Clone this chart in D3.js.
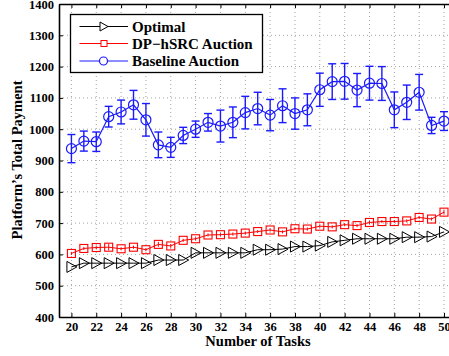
<!DOCTYPE html>
<html>
<head>
<meta charset="utf-8">
<script src="https://cdn.jsdelivr.net/npm/d3@7"></script>
<style>
  html, body { margin: 0; padding: 0; background: #fff; }
  svg { display: block; }
  text { font-family: "Liberation Serif", "Times New Roman", serif; font-weight: bold; }
</style>
</head>
<body>
<svg id="chart" width="449" height="356"></svg>
<script>
// Number of tasks on the x axis
const tasks = d3.range(20, 51);

// Platform's total payment per mechanism
const optimal = [560, 572, 572, 572, 572, 572, 572, 582, 582, 582,
                 605, 605, 605, 605, 605, 615, 615, 617, 625, 625,
                 628, 640, 645, 650, 650, 650, 650, 655, 655, 657, 672];
const dpHsrc = [603, 619, 622, 623, 618, 623, 615, 632, 627, 645,
                650, 662, 663, 665, 668, 673, 678, 672, 682, 681,
                690, 688, 695, 692, 702, 705, 705, 707, 718, 713, 735];
const dpHsrcErr = [5, 5, 6, 10, 5, 5, 5, 8, 6, 5,
                   5, 5, 5, 5, 5, 5, 5, 5, 5, 5,
                   5, 5, 5, 5, 5, 5, 5, 5, 5, 5, 8];
const baseline = [938, 962, 960, 1040, 1055, 1078, 1030, 950, 942, 980,
                  1000, 1022, 1010, 1022, 1053, 1066, 1045, 1075, 1050, 1062,
                  1126, 1152, 1153, 1125, 1147, 1146, 1062, 1086, 1118, 1012, 1026];
const baselineErr = [45, 32, 31, 33, 38, 46, 52, 41, 32, 26,
                     26, 28, 51, 49, 52, 52, 50, 54, 50, 51,
                     53, 57, 57, 53, 54, 54, 57, 55, 57, 26, 30];

const xTicks = d3.range(20, 51, 2);
const yTicks = d3.range(400, 1401, 100);
const seriesNames = ["Optimal", "DP\u2212hSRC Auction", "Baseline Auction"];

const serif = "'Liberation Serif', 'Times New Roman', serif";
const svg = d3.select("#chart");
const plotLeft = 59, plotRight = 456.4, plotTop = 4, plotBottom = 317;

const x = d3.scaleLinear().domain([19, 51]).range([plotLeft, plotRight]);
const y = d3.scaleLinear().domain([400, 1400]).range([plotBottom, plotTop]);

// dotted grid
const grid = svg.append("g");
grid.selectAll("line.vx").data(xTicks).join("line")
  .attr("x1", d => x(d)).attr("x2", d => x(d))
  .attr("y1", plotTop).attr("y2", plotBottom)
  .attr("stroke", "#8c8c8c").attr("stroke-width", 0.8)
  .attr("stroke-dasharray", "1,3");
grid.selectAll("line.hy").data(yTicks.filter(d => d > 400 && d < 1400)).join("line")
  .attr("x1", plotLeft).attr("x2", plotRight)
  .attr("y1", d => y(d)).attr("y2", d => y(d))
  .attr("stroke", "#8c8c8c").attr("stroke-width", 0.8)
  .attr("stroke-dasharray", "1,3");

// axes with inward ticks
const fmt = d3.format("d");
const xAxis = svg.append("g").attr("transform", `translate(0,${plotBottom})`)
  .call(d3.axisBottom(x).tickValues(xTicks).tickFormat(fmt).tickSize(-4).tickPadding(5).tickSizeOuter(0));
const xTop = svg.append("g").attr("transform", `translate(0,${plotTop})`)
  .call(d3.axisTop(x).tickValues(xTicks).tickSize(-4).tickFormat("").tickSizeOuter(0));
const yAxis = svg.append("g").attr("transform", `translate(${plotLeft},0)`)
  .call(d3.axisLeft(y).tickValues(yTicks).tickFormat(fmt).tickSize(-4).tickPadding(5).tickSizeOuter(0));
[xAxis, xTop, yAxis].forEach(g => {
  g.attr("font-family", serif).attr("font-size", 12.5).attr("font-weight", "bold");
  g.selectAll(".domain").attr("stroke", "#000").attr("stroke-width", 1.6);
  g.selectAll(".tick line").attr("stroke", "#000").attr("stroke-width", 1);
  g.selectAll("text").attr("fill", "#000");
});

// axis titles
svg.append("text").attr("x", 258).attr("y", 346).attr("text-anchor", "middle")
  .attr("font-family", serif).attr("font-size", 14.5).text("Number of Tasks");
svg.append("text").attr("transform", "translate(22,160) rotate(-90)")
  .attr("text-anchor", "middle").attr("font-family", serif).attr("font-size", 14.5)
  .text("Platform\u2019s Total Payment");

const line = d3.line().x((d, i) => x(tasks[i])).y(d => y(d));
const marks = svg.append("g");

// Optimal: black line with right-pointing triangles
const triPath = "M-4.5,-5.5 L5.5,0 L-4.5,5.5 Z";
const triSmall = "M-3.5,-4.5 L4.5,0 L-3.5,4.5 Z";
marks.append("path").datum(optimal).attr("d", line)
  .attr("fill", "none").attr("stroke", "#000").attr("stroke-width", 1);
marks.selectAll("path.tri").data(optimal).join("path")
  .attr("d", triPath)
  .attr("transform", (d, i) => `translate(${x(tasks[i])},${y(d)})`)
  .attr("fill", "none").attr("stroke", "#000").attr("stroke-width", 1);

// DP-hSRC: red line with squares and small error bars
marks.append("path").datum(dpHsrc).attr("d", line)
  .attr("fill", "none").attr("stroke", "#ff0000").attr("stroke-width", 1);
marks.selectAll("line.dpe").data(dpHsrc).join("line")
  .attr("x1", (d, i) => x(tasks[i])).attr("x2", (d, i) => x(tasks[i]))
  .attr("y1", (d, i) => y(d - dpHsrcErr[i])).attr("y2", (d, i) => y(d + dpHsrcErr[i]))
  .attr("stroke", "#ff0000").attr("stroke-width", 1);
marks.selectAll("rect.sq").data(dpHsrc).join("rect")
  .attr("x", (d, i) => x(tasks[i]) - 4).attr("y", d => y(d) - 4)
  .attr("width", 8).attr("height", 8)
  .attr("fill", "none").attr("stroke", "#ff0000").attr("stroke-width", 1.1);

// Baseline: blue line with circles and error bars
const blue = "#1a1aff";
marks.append("path").datum(baseline).attr("d", line)
  .attr("fill", "none").attr("stroke", blue).attr("stroke-width", 1.2);
const eb = marks.selectAll("g.eb").data(baseline).join("g");
eb.append("line")
  .attr("x1", (d, i) => x(tasks[i])).attr("x2", (d, i) => x(tasks[i]))
  .attr("y1", (d, i) => y(d - baselineErr[i])).attr("y2", (d, i) => y(d + baselineErr[i]))
  .attr("stroke", blue).attr("stroke-width", 1.4);
eb.append("line")
  .attr("x1", (d, i) => x(tasks[i]) - 4).attr("x2", (d, i) => x(tasks[i]) + 4)
  .attr("y1", (d, i) => y(d - baselineErr[i])).attr("y2", (d, i) => y(d - baselineErr[i]))
  .attr("stroke", blue).attr("stroke-width", 1.4);
eb.append("line")
  .attr("x1", (d, i) => x(tasks[i]) - 4).attr("x2", (d, i) => x(tasks[i]) + 4)
  .attr("y1", (d, i) => y(d + baselineErr[i])).attr("y2", (d, i) => y(d + baselineErr[i]))
  .attr("stroke", blue).attr("stroke-width", 1.4);
marks.selectAll("circle.bc").data(baseline).join("circle")
  .attr("cx", (d, i) => x(tasks[i])).attr("cy", d => y(d)).attr("r", 5)
  .attr("fill", "none").attr("stroke", blue).attr("stroke-width", 1.2);

// legend
const lg = svg.append("g");
lg.append("rect").attr("x", 70.5).attr("y", 14.5).attr("width", 192).attr("height", 58)
  .attr("fill", "#fff").attr("stroke", "#000").attr("stroke-width", 1.3);
const rows = [26.5, 43.5, 61];
const colors = ["#000", "#ff0000", blue];
seriesNames.forEach((name, k) => {
  const ry = rows[k];
  lg.append("line").attr("x1", 79.5).attr("x2", 128).attr("y1", ry).attr("y2", ry)
    .attr("stroke", colors[k]).attr("stroke-width", 1);
  if (k === 0) {
    lg.append("path").attr("d", triSmall).attr("transform", `translate(103.5,${ry})`)
      .attr("fill", "#fff").attr("stroke", "#000");
  } else if (k === 1) {
    lg.append("rect").attr("x", 101).attr("y", ry - 3).attr("width", 6).attr("height", 6)
      .attr("fill", "#fff").attr("stroke", "#ff0000");
  } else {
    lg.append("circle").attr("cx", 103.5).attr("cy", ry).attr("r", 4)
      .attr("fill", "#fff").attr("stroke", blue).attr("stroke-width", 1.2);
  }
  lg.append("text").attr("x", 132).attr("y", ry + 5)
    .attr("font-family", serif).attr("font-size", 15).text(name);
});
</script>
</body>
</html>
